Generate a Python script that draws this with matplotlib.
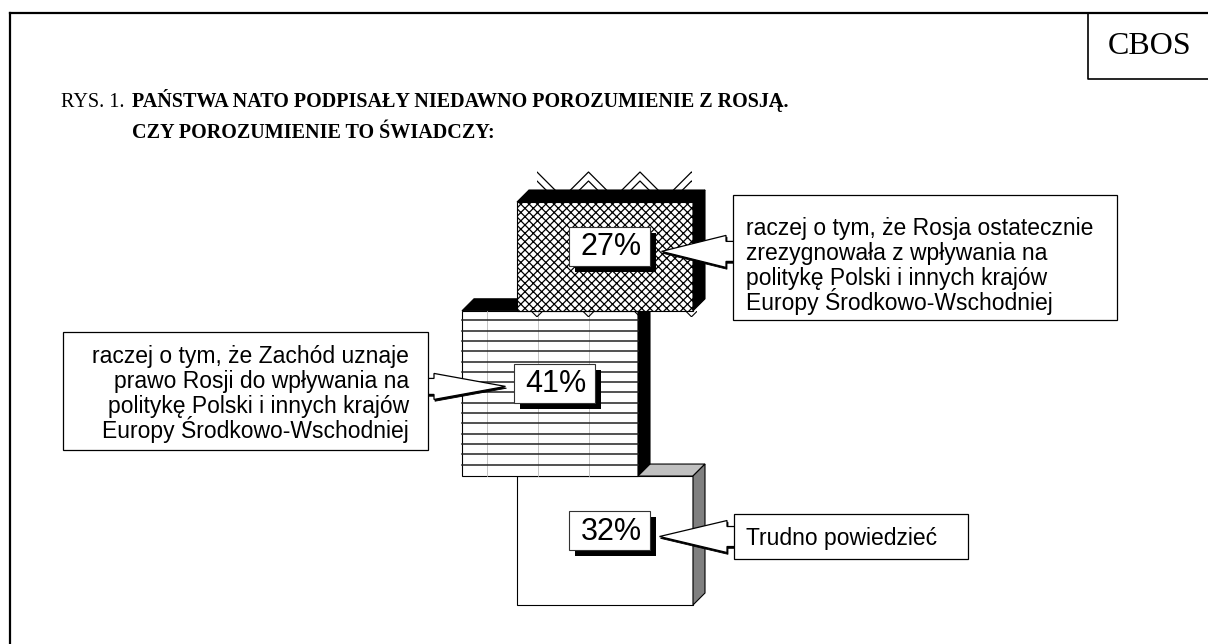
import numpy as np
import matplotlib
matplotlib.use("Agg")
import matplotlib.pyplot as plt
from matplotlib.patches import Rectangle, Polygon
from matplotlib.lines import Line2D

plt.rcParams["hatch.linewidth"] = 0.9

# data (percent of answers), stacked from top to bottom
categories = ["Rosja zrezygnowała", "Zachód uznaje", "Trudno powiedzieć"]
values = [27, 41, 32]
pct_labels = [f"{v}%" for v in values]

right_lines = ["raczej o tym, że Rosja ostatecznie",
               "zrezygnowała z wpływania na",
               "politykę Polski i innych krajów",
               "Europy Środkowo-Wschodniej"]
left_lines = ["raczej o tym, że Zachód uznaje",
              "prawo Rosji do wpływania na",
              "politykę Polski i innych krajów",
              "Europy Środkowo-Wschodniej"]
bottom_text = "Trudno powiedzieć"

title_prefix = "RYS. 1."
title_l1 = "PAŃSTWA NATO PODPISAŁY NIEDAWNO POROZUMIENIE Z ROSJĄ."
title_l2 = "CZY POROZUMIENIE TO ŚWIADCZY:"

W, H = 1208, 644
fig = plt.figure(figsize=(W / 100, H / 100), dpi=100)
ax = fig.add_axes([0, 0, 1, 1])
ax.set_xlim(0, W)
ax.set_ylim(H, 0)
ax.axis("off")

SANS = "Liberation Sans"
SERIF = "Liberation Serif"

# frame + CBOS box
ax.add_line(Line2D([10, W], [13, 13], color="black", lw=1.6))
ax.add_line(Line2D([10, 10], [13, H], color="black", lw=1.6))
ax.add_line(Line2D([1088, 1088, W], [13, 79, 79], color="black", lw=1.2))
ax.text(1150, 46, "CBOS", family=SERIF, fontsize=23, ha="center", va="center")

# title
ax.text(61, 107, title_prefix, family=SERIF, fontsize=14.5, va="baseline")
ax.text(132, 107, title_l1, family=SERIF, fontsize=14.5, weight="bold", va="baseline")
ax.text(132, 138, title_l2, family=SERIF, fontsize=14.5, weight="bold", va="baseline")

# block geometry
px_per_pct = 4.03
y0 = 202
bw, d = 176, 12
xlefts = [517, 462, 517]
tops = y0 + px_per_pct * np.concatenate([[0], np.cumsum(values)[:-1]])
heights = px_per_pct * np.array(values)


def block(x, yt, h, face, topc, sidec, z, hatch=None):
    ax.add_patch(Rectangle((x, yt), bw, h, facecolor=face, edgecolor="black",
                           hatch=hatch, lw=0.8, zorder=z))
    ax.add_patch(Polygon([(x, yt), (x + d, yt - d), (x + bw + d, yt - d), (x + bw, yt)],
                         closed=True, facecolor=topc, edgecolor="black", lw=0.8, zorder=z))
    ax.add_patch(Polygon([(x + bw, yt), (x + bw + d, yt - d), (x + bw + d, yt + h - d),
                          (x + bw, yt + h)], closed=True, facecolor=sidec,
                         edgecolor="black", lw=0.8, zorder=z))


# bottom block: plain with grey sides
block(xlefts[2], tops[2], heights[2], "white", "#c0c0c0", "#808080", 2)

# middle block: horizontal lines, black sides
x, yt, h = xlefts[1], tops[1], heights[1]
block(x, yt, h, "white", "black", "black", 4)
for yy in np.arange(yt + 9.5, yt + h - 2, 10.3):
    ax.add_line(Line2D([x, x + bw], [yy, yy], color="#222222", lw=1.1, zorder=4.1))
for xx in [x + 25, x + 76, x + 127]:
    ax.add_line(Line2D([xx, xx], [yt, yt + h], color="#bbbbbb", lw=0.6, zorder=4.05))

# top block: cross hatch, black sides, hatch spill at top/bottom
x, yt, h = xlefts[0], tops[0], heights[0]
period = 51.5
start = x + 20
for off in [0, 9]:
    zx, zy = [], []
    for k in range(-1, 5):
        zx += [start + k * period, start + (k + 0.5) * period]
        zy += [yt - 30 + off, yt - 30 + off + period / 2]
    ln = Line2D(zx, zy, color="black", lw=0.9, zorder=5.5)
    ax.add_line(ln)
    clip = Rectangle((start, yt - 31), bw - 21, 19, transform=ax.transData)
    ln.set_clip_path(clip)
bx, by = [], []
for k in range(-1, 5):
    bx += [start + k * period, start + (k + 0.5) * period]
    by += [yt + h + 6, yt + h + 6 - period / 2]
ln = Line2D(bx, by, color="black", lw=0.8, zorder=5.5)
ax.add_line(ln)
ln.set_clip_path(Rectangle((start - 6, yt + h), bw - 10, 6, transform=ax.transData))
block(x, yt, h, "white", "black", "black", 6, hatch="xxxx")

# percentage labels with shadows
lw_, lh_ = 81, 39
centers = []
for i in range(3):
    cx = xlefts[i] + bw / 2 + 4
    cy = tops[i] + heights[i] / 2 - 10
    centers.append((cx, cy))
    z = [6.5, 4.5, 2.5][i]
    ax.add_patch(Rectangle((cx - lw_ / 2 + 6, cy - lh_ / 2 + 6), lw_, lh_,
                           facecolor="black", edgecolor="none", zorder=z))
    ax.add_patch(Rectangle((cx - lw_ / 2, cy - lh_ / 2), lw_, lh_,
                           facecolor="white", edgecolor="#333333", lw=0.8, zorder=z + 0.1))
    ax.text(cx + 2, cy + 1, pct_labels[i], family=SANS, fontsize=22,
            ha="center", va="center", zorder=z + 0.2)


def callout(tip, base_x, half_out, half_in, direction, z=8):
    tx, ty = tip
    nx = base_x - direction * 8
    pts = [(tx, ty), (nx, ty - half_out), (nx, ty - half_in), (base_x, ty - half_in),
           (base_x, ty + half_in), (nx, ty + half_in), (nx, ty + half_out)]
    sh = [(px + 1, py + 1.8) for px, py in pts]
    ax.add_patch(Polygon(sh, closed=True, facecolor="black", edgecolor="black",
                         lw=0.6, zorder=z))
    ax.add_patch(Polygon(pts, closed=True, facecolor="white", edgecolor="black",
                         lw=0.9, zorder=z + 0.1))


# right-top callout
cx, cy = centers[0]
callout((cx + lw_ / 2 + 12, cy + 5), 734, 16, 10, 1)
ax.add_patch(Rectangle((733, 195), 384, 125, facecolor="white", edgecolor="black",
                       lw=0.9, zorder=9))
for j, s in enumerate(right_lines):
    ax.text(746, 235 + 25 * j, s, family=SANS, fontsize=16.5, va="baseline", zorder=9.5)

# left callout
cx, cy = centers[1]
callout((cx - lw_ / 2 - 8, cy + 3), 426, 13, 8, -1)
ax.add_patch(Rectangle((63, 332), 365, 118, facecolor="white", edgecolor="black",
                       lw=0.9, zorder=9))
for j, s in enumerate(left_lines):
    ax.text(409, 363 + 25 * j, s, family=SANS, fontsize=16.5, ha="right",
            va="baseline", zorder=9.5)

# bottom callout
cx, cy = centers[2]
callout((cx + lw_ / 2 + 10, cy + 6), 735, 16, 10, 1)
ax.add_patch(Rectangle((734, 514), 234, 45, facecolor="white", edgecolor="black",
                       lw=0.9, zorder=9))
ax.text(746, 545, bottom_text, family=SANS, fontsize=16.5, va="baseline", zorder=9.5)

fig.savefig("out.png", dpi=100, facecolor="white")
